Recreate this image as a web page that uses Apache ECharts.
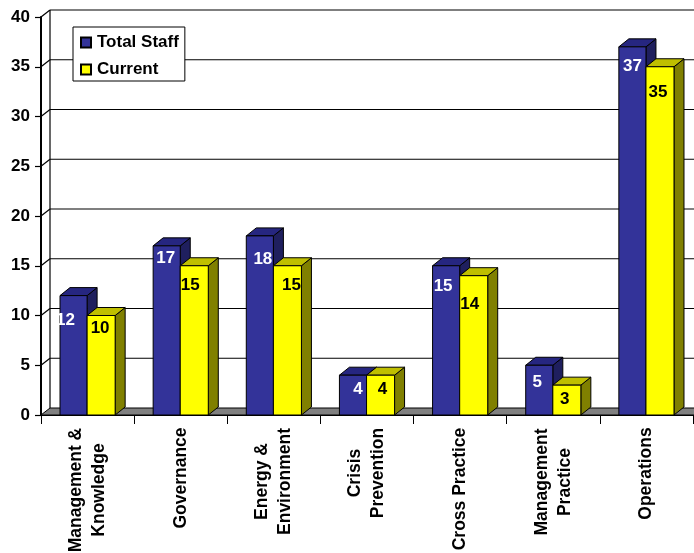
<!DOCTYPE html>
<html><head><meta charset="utf-8">
<style>html,body{margin:0;padding:0;background:#fff}#c{width:694px;height:553px}</style>
<script src="https://cdn.jsdelivr.net/npm/echarts@6/dist/echarts.min.js"></script>
</head><body><div id="c"></div>
<script>
const categories = [["Management &","Knowledge"],["Governance"],["Energy &","Environment"],["Crisis","Prevention"],["Cross Practice"],["Management","Practice"],["Operations"]];
const totalStaff = [12,17,18,4,15,5,37];
const current = [10,15,15,4,14,3,35];
const yTicks = [0,5,10,15,20,25,30,35,40];

// label nudges [dx from bar centre, dy below bar top]
const totalNudge = [[-8,24.5],[-1,12],[3,23],[5,14],[-3,20.5],[-2,17],[0,19]];
const currentNudge = [[-1,12.5],[-4,19.5],[4,19.5],[2,14],[-4,28.5],[-2,14],[-2,25.5]];
const labelWidths = [124,100,107,90,122,108,91];

const WALL = [9,7], DEPTH = [10,8];
const FONT = '"Liberation Sans", Arial, sans-serif';
const poly = (pts, fill, stroke, lw) => ({type:'polygon',shape:{points:pts},style:{fill:fill,stroke:stroke||'#000',lineWidth:lw===undefined?1:lw}});
const line = (x1,y1,x2,y2,w) => ({type:'line',shape:{x1,y1,x2,y2},style:{stroke:'#000',lineWidth:w||1.2}});

function wallItem(params, api){
  const cs = params.coordSys, right = cs.x + cs.width + 20;
  const p = api.coord([0, api.value(1)]);
  const x = cs.x, y = p[1], ch = [];
  if (api.value(1) === 0) {
    ch.push(poly([[x,y],[x+WALL[0],y-WALL[1]],[right,y-WALL[1]],[right,y]],'#808080','#000',1));
    const top = api.coord([0,40])[1];
    ch.push(line(x+WALL[0],y-WALL[1],x+WALL[0],top-WALL[1]));
  } else {
    ch.push(line(x,y,x+WALL[0],y-WALL[1]));
    ch.push(line(x+WALL[0],y-WALL[1],right,y-WALL[1]));
  }
  return {type:'group',children:ch};
}
function barItem(startFrac, endFrac, face, top, side, textColor, nudge){
  return function(params, api){
    const i = api.value(0), v = api.value(1);
    const band = api.size([1,0])[0];
    const c = api.coord([i, v]), base = api.coord([i, 0]);
    const left = c[0]-band/2;
    const x0 = left+band*startFrac, x1 = left+band*endFrac, y0 = c[1], y1 = base[1];
    const dx = DEPTH[0], dy = DEPTH[1], n = nudge[i];
    return {type:'group',children:[
      poly([[x1,y0],[x1+dx,y0-dy],[x1+dx,y1-dy],[x1,y1]],side),
      poly([[x0,y0],[x0+dx,y0-dy],[x1+dx,y0-dy],[x1,y0]],top),
      {type:'rect',shape:{x:x0,y:y0,width:x1-x0,height:y1-y0},style:{fill:face,stroke:'#000',lineWidth:1}},
      {type:'text',z2:10,style:{x:(x0+x1)/2+n[0],y:y0+n[1],text:String(v),fill:textColor,align:'center',verticalAlign:'middle',
        font:'bold 17px '+FONT}}
    ]};
  };
}
const rich = {};
labelWidths.forEach((w,i)=>{rich['w'+i]={width:w,align:'center',fontWeight:'bold',fontSize:17.5,lineHeight:23,color:'#000',fontFamily:FONT};});

const chart = echarts.init(document.getElementById('c'),null,{renderer:'canvas'});
chart.setOption({
  animation:false,
  backgroundColor:'#fff',
  textStyle:{fontFamily:FONT},
  grid:{left:41,right:1,top:17,bottom:138,containLabel:false,outerBoundsMode:'none'},
  legend:{
    left:73,top:27,orient:'vertical',padding:[7,6,3,7],itemGap:10,itemWidth:10,itemHeight:10,
    backgroundColor:'#fff',borderColor:'#000',borderWidth:1,icon:'rect',
    textStyle:{fontWeight:'bold',fontSize:17,color:'#000',padding:[0,0,0,1]},
    data:['Total Staff','Current']
  },
  xAxis:{type:'category',data:categories.map((c,i)=>c.map(s=>'{w'+i+'|'+s+'}').join('\n')),
    axisLine:{show:true,lineStyle:{color:'#000',width:2}},
    axisTick:{show:true,length:9,alignWithLabel:false,interval:0,lineStyle:{color:'#000',width:1}},
    axisLabel:{interval:0,rotate:90,margin:13,rich:rich,color:'#000',fontWeight:'bold',fontSize:17,hideOverlap:false},
    splitLine:{show:false}
  },
  yAxis:{type:'value',min:0,max:40,interval:5,
    axisLine:{show:true,lineStyle:{color:'#000',width:2}},
    axisTick:{show:true,length:6,lineStyle:{color:'#000',width:1.2}},
    axisLabel:{margin:11,padding:[2,0,0,0],color:'#000',fontWeight:'bold',fontSize:17,formatter:v=>String(v)},
    splitLine:{show:false}
  },
  series:[
    {type:'custom',name:'wall',silent:true,z:1,clip:false,renderItem:wallItem,encode:{x:0,y:1},
     data:yTicks.map(v=>[0,v])},
    {type:'custom',name:'Total Staff',z:3,clip:false,itemStyle:{color:'#333399',borderColor:'#000',borderWidth:1},encode:{x:0,y:1},
     renderItem:barItem(0.204,0.495,'#333399','#262680','#1f1f5e','#fff',totalNudge),
     data:totalStaff.map((v,i)=>[i,v])},
    {type:'custom',name:'Current',z:3,clip:false,itemStyle:{color:'#ffff00',borderColor:'#000',borderWidth:1},encode:{x:0,y:1},
     renderItem:barItem(0.495,0.796,'#ffff00','#bfbf00','#808000','#000',currentNudge),
     data:current.map((v,i)=>[i,v])}
  ]
});
</script></body></html>
